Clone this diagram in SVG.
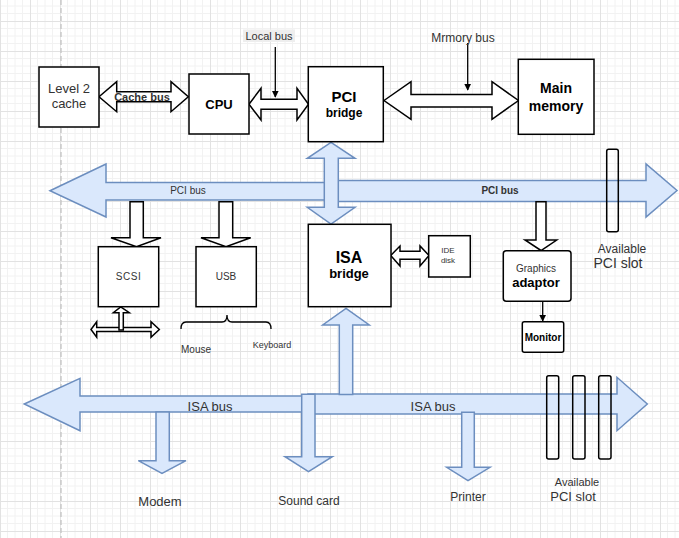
<svg xmlns="http://www.w3.org/2000/svg" width="679" height="538" viewBox="0 0 679 538">
<defs>
<pattern id="grid" x="0" y="21" width="30" height="30" patternUnits="userSpaceOnUse">
<path d="M7.5 0V30M15 0V30M22.5 0V30M0 7.5H30M0 15H30M0 22.5H30" stroke="#f2f2f2" stroke-width="1" fill="none"/>
<path d="M0.5 0V30M0 0.5H30" stroke="#e2e2e2" stroke-width="1" fill="none"/>
</pattern>
<marker id="ah" viewBox="0 0 10 10" refX="9" refY="5" markerWidth="7" markerHeight="7" orient="auto" markerUnits="userSpaceOnUse">
<path d="M0 0L10 5L0 10z" fill="#000"/>
</marker>
</defs>
<style>
.box{fill:#fff;stroke:#000;stroke-width:1.5}
.slot{fill:none;stroke:#000;stroke-width:1.5}
.blk{fill:#fff;stroke:#000;stroke-width:1.5;stroke-linejoin:miter}
.blue{fill:#dae8fc;stroke:#6c8ebf;stroke-width:1.5;stroke-linejoin:miter}
text{font-family:"Liberation Sans",Arial,sans-serif;text-anchor:middle;fill:#333}
.b{font-weight:bold;fill:#000}
.ln{stroke:#000;stroke-width:1.3;fill:none}
</style>
<rect width="679" height="538" fill="#fff"/>
<rect width="679" height="538" fill="url(#grid)"/>
<line x1="61" y1="0" x2="61" y2="538" stroke="#c4c4c4" stroke-width="1.3" stroke-dasharray="5 3"/>

<g id="connectors">
<polygon class="blk" points="99,96.7 116.7,81.7 116.7,91.7 171,91.7 171,81.7 188.3,96.7 171,111.7 171,101.7 116.7,101.7 116.7,111.7"/>
<polygon class="blk" points="249,104.2 261,88.3 261,99.3 297,99.3 297,88.3 308.5,104.2 297,120 297,109.3 261,109.3 261,120"/>
<polygon class="blk" points="384,100.5 411,81.7 411,94.5 492,94.5 492,81.7 518.5,100.5 492,119.3 492,107 411,107 411,119.3"/>
<line class="ln" x1="275.3" y1="47" x2="275.3" y2="97" marker-end="url(#ah)"/>
<line class="ln" x1="467.7" y1="43" x2="467.7" y2="90" marker-end="url(#ah)"/>

<polygon class="blue" points="50,190.7 106,164 106,182.5 331,182.5 331,200 106,200 106,217"/>
<polygon class="blue" points="331,180.5 646,180.5 646,164 677,190.5 646,217 646,201.5 331,201.5"/>
<polygon class="blue" points="331,142.3 355,158.3 338.3,158.3 338.3,207.3 355,207.3 331,224 307.3,207.3 324.3,207.3 324.3,158.3 307.3,158.3"/>

<polygon class="blk" points="130,201.7 143.3,201.7 143.3,237.7 161,237.7 136.5,246.7 111,237.7 130,237.7"/>
<polygon class="blk" points="219,201.7 232.7,201.7 232.7,237.7 250.7,237.7 226,246.7 201,237.7 219,237.7"/>
<polygon class="blk" points="536,201.7 546,201.7 546,240 556.7,240 541,250.5 525,240 536,240"/>
<line class="ln" x1="542.7" y1="301.5" x2="542.7" y2="321" marker-end="url(#ah)"/>
<polygon class="blk" points="390.7,255.5 400,246 400,251.3 420,251.3 420,246 429,255.5 420,266 420,259.3 400,259.3 400,266"/>

<polygon class="blk" points="91,329.5 96.7,321.7 96.7,327.5 151,327.5 151,321.7 159.3,329.5 151,337.3 151,331.5 96.7,331.5 96.7,337.3"/>
<polygon class="blk" points="120.7,306.9 129.3,312.7 123.3,312.7 123.3,330 119,330 119,312.7 113.3,312.7"/>
<path class="ln" d="M181 329Q181 322 186 322H222Q227 322 227 315Q227 322 232 322H266Q271 322 271 329" stroke-width="1.2"/>

<polygon class="blue" points="24.3,404 80,378.3 80,396 308,396 308,412 80,412 80,430.7"/>
<polygon class="blue" points="308,394 617,394 617,377.3 647.3,404 617,430.7 617,414 308,414"/>
<polygon class="blue" points="346,308.3 369.3,325 352.7,325 352.7,394.5 339.3,394.5 339.3,325 322.7,325"/>
<polygon class="blue" points="301.7,394.3 315,394.3 315,456.7 332.3,456.7 308.5,471.7 285,456.7 301.7,456.7"/>
<polygon class="blue" points="156,412 169.3,412 169.3,460.7 186,460.7 162,473.3 138.3,460.7 156,460.7"/>
<polygon class="blue" points="461.7,412.3 474.3,412.3 474.3,467.3 490,467.3 468,480.7 446.7,467.3 461.7,467.3"/>
</g>

<g id="level2cache"><rect class="box" x="39" y="67" width="60" height="60"/><text x="69" y="93" font-size="13">Level 2</text><text x="69" y="108" font-size="13">cache</text></g>
<g id="cachebus-label"><text x="142" y="101" font-size="11" font-weight="bold" fill="#222">Cache bus</text></g>
<g id="cpu"><rect class="box" x="189" y="74" width="60" height="60"/><text class="b" x="219" y="109" font-size="13">CPU</text></g>
<g id="localbus-label"><rect x="243" y="29.5" width="52" height="12.5" fill="#eeeeee"/><text x="269" y="40" font-size="11">Local bus</text></g>
<g id="memorybus-label"><text x="463" y="41.5" font-size="12">Mrmory bus</text></g>
<g id="pcibridge"><rect class="box" x="308.3" y="66.7" width="75" height="75"/><text class="b" x="344" y="101.5" font-size="15">PCI</text><text class="b" x="344" y="116.5" font-size="12">bridge</text></g>
<g id="mainmemory"><rect class="box" x="518.3" y="59.3" width="75.7" height="75"/><text class="b" x="556" y="93" font-size="14">Main</text><text class="b" x="556" y="111" font-size="14">memory</text></g>
<g id="pcibus-labels"><text x="188" y="193.5" font-size="10">PCI bus</text><text x="500" y="194" font-size="10" font-weight="bold" fill="#111">PCI bus</text></g>
<g id="isabridge"><rect class="box" x="308.3" y="224.3" width="82.7" height="82.4"/><text class="b" x="349" y="263" font-size="16">ISA</text><text class="b" x="349" y="278" font-size="13">bridge</text></g>
<g id="idedisk"><rect class="box" x="428.7" y="235.7" width="41.6" height="41.3"/><text x="448" y="253" font-size="8">IDE</text><text x="448" y="263" font-size="8">disk</text></g>
<g id="scsi"><rect class="box" x="98.3" y="246.7" width="60.4" height="60"/><text x="128.5" y="280" font-size="10" fill="#000" letter-spacing="0.5">SCSI</text></g>
<g id="usb"><rect class="box" x="196" y="246.7" width="60.3" height="60"/><text x="226" y="280" font-size="10" fill="#000">USB</text></g>
<g id="usb-devices"><text x="196" y="353" font-size="10">Mouse</text><text x="272" y="347.5" font-size="9">Keyboard</text></g>
<g id="graphics"><rect class="box" x="503.3" y="250.7" width="67.7" height="50.6" rx="3"/><text x="536" y="272" font-size="10" fill="#111">Graphics</text><text class="b" x="536" y="287" font-size="13">adaptor</text></g>
<g id="monitor"><rect class="box" x="522.3" y="321.7" width="41.4" height="30.6" rx="2"/><text class="b" x="543" y="341" font-size="10" fill="#111">Monitor</text></g>
<g id="pcislot"><rect class="slot" x="606.7" y="149.3" width="11.6" height="82.4" rx="2"/><text x="622" y="253" font-size="12">Available</text><text x="618" y="268" font-size="14">PCI slot</text></g>
<g id="isabus-labels"><text x="210" y="410.5" font-size="13">ISA bus</text><text x="433" y="410.5" font-size="13">ISA bus</text></g>
<g id="modem"><text x="160" y="505.5" font-size="13">Modem</text></g>
<g id="soundcard"><text x="309" y="504.5" font-size="12">Sound card</text></g>
<g id="printer"><text x="468" y="501" font-size="12">Printer</text></g>
<g id="isaslots"><rect class="slot" x="546.7" y="375.7" width="12" height="83.3" rx="2"/><rect class="slot" x="572.7" y="375.7" width="12.3" height="83.3" rx="2"/><rect class="slot" x="598.7" y="375.7" width="12.3" height="83.3" rx="2"/><text x="577" y="486" font-size="11">Available</text><text x="573" y="501" font-size="13">PCI slot</text></g>
</svg>
